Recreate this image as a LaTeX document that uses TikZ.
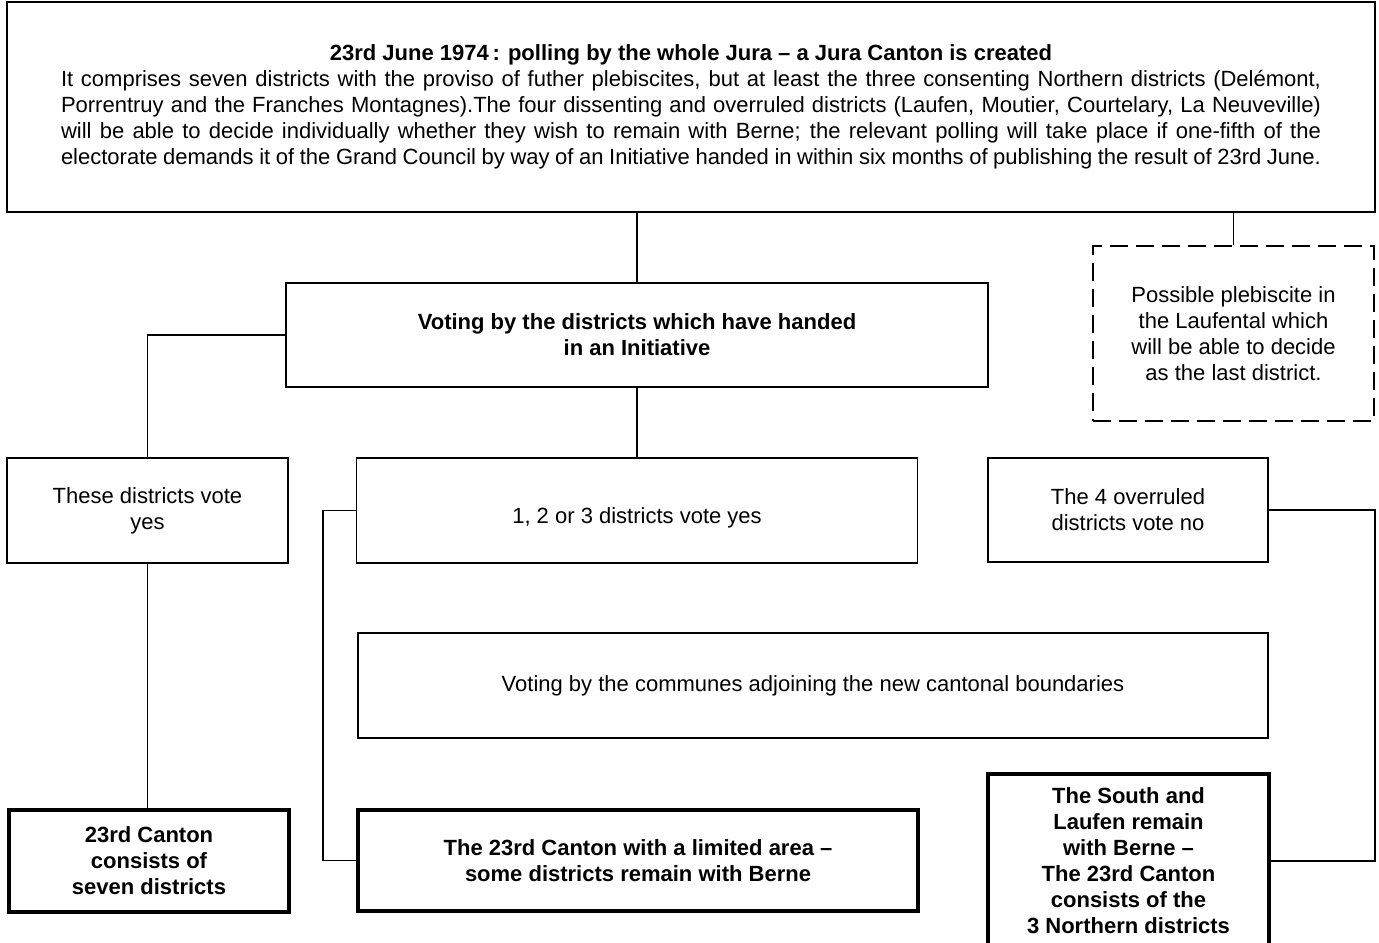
\documentclass[tikz,border=0pt]{standalone}
\usepackage{fontspec}
\setmainfont{Liberation Sans}
\newcommand{\jline}[1]{\hbox to 630pt{#1}}
\begin{document}
\begin{tikzpicture}[x=0.5pt,y=-0.5pt,
  box/.style={draw,line width=0.9pt,align=center,inner sep=0pt,font=\fontsize{11}{13}\selectfont},
  result/.style={box,line width=2pt,font=\fontsize{11}{13}\selectfont\bfseries},
  maybe/.style={box,dash pattern=on 9pt off 4pt},
  wire/.style={line width=0.9pt}]
\clip (0,0) rectangle (1379,942);
\node(poll) at (691,107) [box,minimum width=684pt,minimum height=105pt] {\textbf{23rd June 1974\,: polling by the whole Jura -- a Jura Canton is created}\\
\jline{It comprises seven districts with the proviso of futher plebiscites, but at least the three consenting Northern districts (Delémont,}\\
\jline{Porrentruy and the Franches Montagnes).The four dissenting and overruled districts (Laufen, Moutier, Courtelary, La Neuveville)}\\
\jline{will be able to decide individually whether they wish to remain with Berne; the relevant polling will take place if one-fifth of the}\\
\jline{electorate demands it of the Grand Council by way of an Initiative handed in within six months of publishing the result of 23rd June.}};
\node(vote) at (637,335) [box,minimum width=351pt,minimum height=52pt,font=\fontsize{11}{13}\selectfont\bfseries] {Voting by the districts which have handed\\in an Initiative};
\node(laufen) at (1233.5,333.5) [maybe,minimum width=140.5pt,minimum height=87.5pt] {Possible plebiscite in\\the Laufental which\\will be able to decide\\as the last district.};
\node(yes) at (147.5,510.5) [box,minimum width=140.5pt,minimum height=52.5pt] {These districts vote\\yes};
\node(some) at (637,510.5) [box,minimum width=280.5pt,minimum height=52.5pt,text height=15.5pt,text depth=2.3pt] {1, 2 or 3 districts vote yes};
\node(no) at (1128,510) [box,minimum width=140pt,minimum height=52pt] {The 4 overruled\\districts vote no};
\node(communes) at (813,685.5) [box,minimum width=455pt,minimum height=52.5pt] {Voting by the communes adjoining the new cantonal boundaries};
\node(seven) at (149,861) [result,minimum width=140pt,minimum height=51pt] {23rd Canton\\consists of\\seven districts};
\node(limited) at (638,860.5) [result,minimum width=280pt,minimum height=50.5pt] {The 23rd Canton with a limited area --\\some districts remain with Berne};
\node(south) at (1128.5,861) [result,minimum width=140.5pt,minimum height=87pt] {The South and\\Laufen remain\\with Berne --\\The 23rd Canton\\consists of the\\3 Northern districts};
% connectors
\draw[wire] (vote.north) -- (vote.north |- poll.south);
\draw[wire] (laufen.north) -- (laufen.north |- poll.south);
\draw[wire] (vote.west) -| (yes.north);
\draw[wire] (vote.south) -- (some.north);
\draw[wire] (yes.south) -- (yes.south |- seven.north);
\draw[wire] (some.west) -- ++(-33,0) |- (limited.west);
\draw[wire] (no.east) -- ++(106,0) |- (south.east);
\end{tikzpicture}
\end{document}
